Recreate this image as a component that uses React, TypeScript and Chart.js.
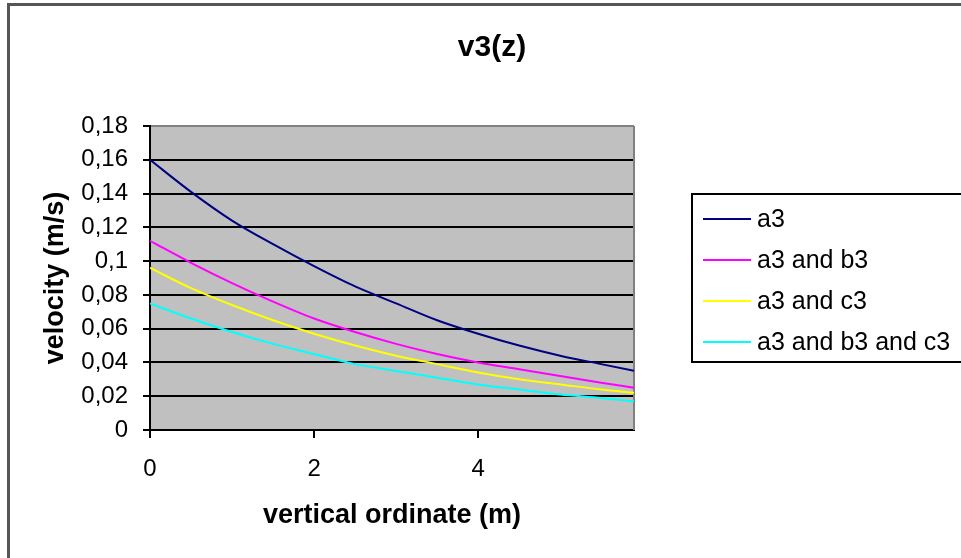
import React, { useEffect, useRef } from "react";
import { Chart, registerables } from "chart.js";

Chart.register(...registerables);

const chartTitle = "v3(z)";
const xAxisTitle = "vertical ordinate (m)";
const yAxisTitle = "velocity (m/s)";

const xValues = [0, 0.5, 1, 1.5, 2, 2.5, 3, 3.5, 4, 4.5, 5, 5.5, 5.9];
const seriesLabels = ["a3", "a3 and b3", "a3 and c3", "a3 and b3 and c3"];
const a3 = [0.16, 0.141, 0.124, 0.11, 0.097, 0.085, 0.075, 0.065, 0.057, 0.05, 0.044, 0.039, 0.035];
const a3b3 = [0.112, 0.099, 0.087, 0.076, 0.066, 0.058, 0.051, 0.045, 0.04, 0.036, 0.032, 0.028, 0.025];
const a3c3 = [0.096, 0.084, 0.074, 0.065, 0.057, 0.05, 0.044, 0.039, 0.034, 0.03, 0.027, 0.024, 0.022];
const a3b3c3 = [0.075, 0.066, 0.058, 0.051, 0.045, 0.039, 0.035, 0.031, 0.027, 0.024, 0.021, 0.019, 0.017];
const seriesValues = [a3, a3b3, a3c3, a3b3c3];
const seriesColors = ["#000080", "#FF00FF", "#FFFF00", "#00FFFF"];

const FONT = '"Liberation Sans", Arial, sans-serif';

const formatY = (v: number) => {
  const n = parseFloat(Number(v).toFixed(2));
  return String(n).replace(".", ",");
};

const decorPlugin = {
  id: "decor",
  beforeDraw(chart: any) {
    const { ctx, chartArea } = chart;
    ctx.save();
    ctx.fillStyle = "#ffffff";
    ctx.fillRect(0, 0, chart.width, chart.height);
    ctx.fillStyle = "#C0C0C0";
    ctx.fillRect(chartArea.left, chartArea.top, chartArea.right - chartArea.left, chartArea.bottom - chartArea.top);
    ctx.restore();
  },
  beforeDatasetsDraw(chart: any) {
    const { ctx, chartArea } = chart;
    ctx.save();
    ctx.strokeStyle = "#808080";
    ctx.lineWidth = 2;
    ctx.beginPath();
    ctx.moveTo(chartArea.right, chartArea.top);
    ctx.lineTo(chartArea.right, chartArea.bottom);
    ctx.stroke();
    ctx.restore();
  },
  afterDraw(chart: any) {
    const { ctx } = chart;
    ctx.save();
    // outer chart border
    ctx.strokeStyle = "#555555";
    ctx.lineWidth = 3;
    ctx.strokeRect(8.5, 4.5, 2000, 2000);
    // title
    ctx.fillStyle = "#000";
    ctx.font = `bold 30px ${FONT}`;
    ctx.textAlign = "center";
    ctx.textBaseline = "middle";
    ctx.fillText(chartTitle, 492, 48);
    // legend
    ctx.strokeStyle = "#000";
    ctx.lineWidth = 2;
    ctx.strokeRect(692, 194, 400, 168);
    ctx.font = `25px ${FONT}`;
    ctx.textAlign = "left";
    chart.data.datasets.forEach((ds: any, i: number) => {
      const y = 219 + i * 41;
      ctx.strokeStyle = ds.borderColor;
      ctx.lineWidth = 2;
      ctx.beginPath();
      ctx.moveTo(703, y);
      ctx.lineTo(751, y);
      ctx.stroke();
      ctx.fillStyle = "#000";
      ctx.fillText(ds.label, 757, y + 1);
    });
    ctx.restore();
  },
};

export default function App() {
  const ref = useRef<HTMLCanvasElement | null>(null);
  useEffect(() => {
    if (!ref.current) return;
    const chart = new Chart(ref.current, {
      type: "line",
      data: {
        datasets: seriesLabels.map((label, i) => ({
          label,
          data: xValues.map((x, j) => ({ x, y: seriesValues[i][j] })),
          borderColor: seriesColors[i],
          backgroundColor: seriesColors[i],
          borderWidth: 2,
          pointRadius: 0,
          cubicInterpolationMode: "monotone",
          fill: false,
        })),
      },
      options: {
        responsive: false,
        animation: false,
        layout: { padding: { left: 0, right: 327, top: 126, bottom: 0 } },
        plugins: {
          legend: { display: false },
          title: { display: false },
          tooltip: { enabled: false },
        },
        scales: {
          x: {
            type: "linear",
            min: 0,
            max: 5.9,
            ticks: {
              stepSize: 2,
              includeBounds: false,
              color: "#000",
              font: { family: FONT, size: 24 },
              padding: 17,
            },
            grid: { drawOnChartArea: false, tickLength: 8, color: "#000", lineWidth: 2 },
            border: { color: "#000", width: 2 },
            title: {
              display: true,
              text: xAxisTitle,
              color: "#000",
              font: { family: FONT, size: 27, weight: "bold" },
              padding: { top: 0, bottom: 26 },
            },
            afterFit: (s: any) => {
              s.height = 128;
            },
          },
          y: {
            min: 0,
            max: 0.18,
            ticks: {
              stepSize: 0.02,
              color: "#000",
              font: { family: FONT, size: 24 },
              padding: 15,
              callback: (v: any) => formatY(v),
            },
            grid: {
              color: (c: any) => (c.tick && Math.abs(c.tick.value - 0.18) < 1e-9 ? "#808080" : "#000"),
              tickColor: "#000",
              lineWidth: 2,
              tickLength: 7,
            },
            border: { color: "#000", width: 2 },
            title: {
              display: true,
              text: yAxisTitle,
              color: "#000",
              font: { family: FONT, size: 27, weight: "bold" },
              padding: { top: 39, bottom: 0 },
            },
            afterFit: (s: any) => {
              s.width = 150;
            },
          },
        },
      } as any,
      plugins: [decorPlugin],
    });
    return () => chart.destroy();
  }, []);
  return (
    <div style={{ position: "fixed", left: 0, top: 0, width: 961, height: 558, overflow: "hidden", background: "#fff" }}>
      <canvas ref={ref} width={961} height={558} style={{ display: "block", width: 961, height: 558 }} />
    </div>
  );
}
